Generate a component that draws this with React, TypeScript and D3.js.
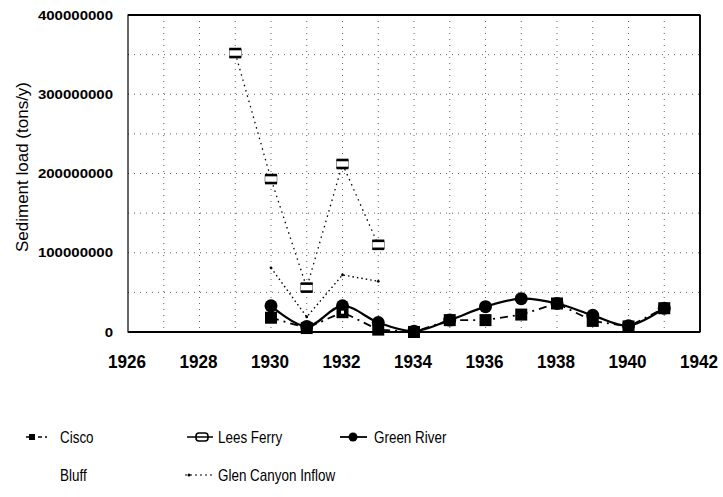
import React from 'react';
import * as d3 from 'd3';

// Annual sediment load (tons/y) by gauging station
const yearsMain = [1930, 1931, 1932, 1933, 1934, 1935, 1936, 1937, 1938, 1939, 1940, 1941];
const cisco = [18e6, 5e6, 25e6, 3e6, 0, 15e6, 15e6, 22e6, 36e6, 14e6, 7e6, 30e6];
const greenRiver = [33e6, 7e6, 33e6, 12e6, 1e6, 15e6, 32e6, 42e6, 36e6, 21e6, 8e6, 30e6];
const leesFerryYears = [1929, 1930, 1931, 1932, 1933];
const leesFerry = [352e6, 193e6, 56e6, 212e6, 110e6];
const glenYears = [1930, 1931, 1932, 1933];
const glenCanyonInflow = [81e6, 19e6, 72e6, 64e6];
const bluffYears: number[] = [];
const bluff: number[] = [];

const xTicks = [1926, 1928, 1930, 1932, 1934, 1936, 1938, 1940, 1942];
const yTicks = [0, 100000000, 200000000, 300000000, 400000000];
const yTitle = 'Sediment load (tons/y)';

const W = 723;
const H = 497;
const L = 128, R = 700, T = 15, B = 332;

const x = d3.scaleLinear().domain([1926, 1942]).range([L, R]);
const y = d3.scaleLinear().domain([0, 400000000]).range([B, T]);

type Pt = [number, number];
const zip = (xs: number[], vs: number[]): Pt[] => xs.map((yr, i) => [yr, vs[i]]);

const straight = d3.line<Pt>().x(d => x(d[0])).y(d => y(d[1]));
const smooth = d3.line<Pt>().x(d => x(d[0])).y(d => y(d[1])).curve(d3.curveCatmullRom.alpha(0.5));

const ciscoPts = zip(yearsMain, cisco);
const greenPts = zip(yearsMain, greenRiver);
const leesPts = zip(leesFerryYears, leesFerry);
const glenPts = zip(glenYears, glenCanyonInflow);
const bluffPts = zip(bluffYears, bluff);

const font = 'Liberation Sans, Arial, Helvetica, sans-serif';

function LeesMarker({ cx, cy, w = 12, h = 8 }: { cx: number; cy: number; w?: number; h?: number }) {
  return (
    <g>
      <rect x={cx - w / 2} y={cy - h / 2} width={w} height={h} fill="#fff" stroke="#000" strokeWidth={0.4} />
      <line x1={cx - w / 2} x2={cx + w / 2} y1={cy - h / 2} y2={cy - h / 2} stroke="#000" strokeWidth={2.6} />
      <line x1={cx - w / 2} x2={cx + w / 2} y1={cy + h / 2} y2={cy + h / 2} stroke="#000" strokeWidth={2.6} />
    </g>
  );
}

export default function App() {
  const gridYears = d3.range(1927, 1942);
  const gridVals = d3.range(50000000, 400000000, 50000000);
  const ly1 = 437;
  const ly2 = 475;

  return (
    <svg width={W} height={H} viewBox={`0 0 ${W} ${H}`} style={{ position: 'absolute', left: 0, top: 0, background: '#fff' }}>
      <rect x={0} y={0} width={W} height={H} fill="#fff" />

      {/* dotted grid */}
      <g stroke="#222" strokeWidth={1} strokeDasharray="1,5" opacity={0.7}>
        {gridYears.map(g => (
          <line key={'gx' + g} x1={x(g)} x2={x(g)} y1={T} y2={B} />
        ))}
        {gridVals.map(g => (
          <line key={'gy' + g} x1={L} x2={R} y1={y(g)} y2={y(g)} />
        ))}
      </g>

      {/* plot frame */}
      <rect x={L} y={T} width={R - L} height={B - T} fill="none" stroke="#000" strokeWidth={1.2} />
      <line x1={L} x2={R} y1={T} y2={T} stroke="#000" strokeWidth={2} />
      <line x1={L} x2={R} y1={B} y2={B} stroke="#000" strokeWidth={2.2} />
      <line x1={R} x2={R} y1={T} y2={B} stroke="#000" strokeWidth={1.8} />

      {/* y tick labels */}
      {yTicks.map(v => (
        <text key={'yt' + v} transform={`translate(${113},${y(v) + 4.5}) scale(1.25,1)`} textAnchor="end"
          fontFamily={font} fontWeight="bold" fontSize={12} fill="#000">{String(v)}</text>
      ))}

      {/* x tick labels */}
      {xTicks.map(v => (
        <text key={'xt' + v} transform={`translate(${x(v) - 1},${368}) scale(0.9,1)`} textAnchor="middle"
          fontFamily={font} fontWeight="bold" fontSize={19} fill="#000">{String(v)}</text>
      ))}

      {/* y axis title */}
      <text transform={`translate(${28},${167}) rotate(-90)`} textAnchor="middle" fontFamily={font}
        fontSize={17} fill="#000">{yTitle}</text>

      {/* Lees Ferry */}
      <path d={straight(leesPts) || ''} fill="none" stroke="#000" strokeWidth={1.3} strokeDasharray="1.5,4" />
      {/* Glen Canyon Inflow */}
      <path d={straight(glenPts) || ''} fill="none" stroke="#000" strokeWidth={1.4} strokeDasharray="1.5,3" />
      {glenPts.map((d, i) => (
        <circle key={'gc' + i} cx={x(d[0])} cy={y(d[1])} r={1.4} fill="#000" />
      ))}
      {/* Bluff */}
      <path d={straight(bluffPts) || ''} fill="none" stroke="#ccc" strokeWidth={1} />
      {/* Cisco */}
      <path d={straight(ciscoPts) || ''} fill="none" stroke="#000" strokeWidth={1.8} strokeDasharray="8,5,2,5" />
      {/* Green River */}
      <path d={smooth(greenPts) || ''} fill="none" stroke="#000" strokeWidth={2.2} />

      {ciscoPts.map((d, i) => (
        <rect key={'cs' + i} x={x(d[0]) - 6} y={y(d[1]) - 6} width={12} height={12} fill="#000" />
      ))}
      {greenPts.map((d, i) => (
        <circle key={'gr' + i} cx={x(d[0])} cy={y(d[1])} r={6.5} fill="#000" />
      ))}
      {ciscoPts.map((d, i) => (
        <rect key={'cs2' + i} x={x(d[0]) - 1.5} y={y(d[1]) - 1.5} width={3} height={3} fill={d[0] === 1932 ? '#fff' : '#000'} />
      ))}
      {leesPts.map((d, i) => (
        <LeesMarker key={'lf' + i} cx={x(d[0])} cy={y(d[1])} />
      ))}

      {/* legend */}
      <g fontFamily={font} fontSize={16} fill="#000">
        {/* Cisco */}
        <line x1={26} x2={50} y1={ly1} y2={ly1} stroke="#000" strokeWidth={1.5} strokeDasharray="4,3,2,3" />
        <rect x={29} y={ly1 - 3} width={6} height={6} fill="#000" />
        <text transform={`translate(60,${ly1 + 6}) scale(0.84,1)`}>Cisco</text>
        {/* Lees Ferry */}
        <line x1={187} x2={213} y1={ly1} y2={ly1} stroke="#000" strokeWidth={1.5} />
        <rect x={196} y={ly1 - 4} width={12} height={8} rx={3} fill="#fff" stroke="#000" strokeWidth={1.6} />
        <line x1={196} x2={208} y1={ly1} y2={ly1} stroke="#000" strokeWidth={1.5} />
        <text transform={`translate(218,${ly1 + 6}) scale(0.84,1)`}>Lees Ferry</text>
        {/* Green River */}
        <line x1={340} x2={367} y1={ly1} y2={ly1} stroke="#000" strokeWidth={1.8} />
        <circle cx={353} cy={ly1} r={4.5} fill="#000" />
        <text transform={`translate(374,${ly1 + 6}) scale(0.84,1)`}>Green River</text>
        {/* Bluff */}
        <text transform={`translate(60,${ly2 + 6}) scale(0.84,1)`}>Bluff</text>
        {/* Glen Canyon Inflow */}
        <line x1={185} x2={213} y1={ly2} y2={ly2} stroke="#000" strokeWidth={1.2} strokeDasharray="2,3" />
        <circle cx={189} cy={ly2} r={1.5} fill="#000" />
        <text transform={`translate(218,${ly2 + 6}) scale(0.84,1)`}>Glen Canyon Inflow</text>
      </g>
    </svg>
  );
}
